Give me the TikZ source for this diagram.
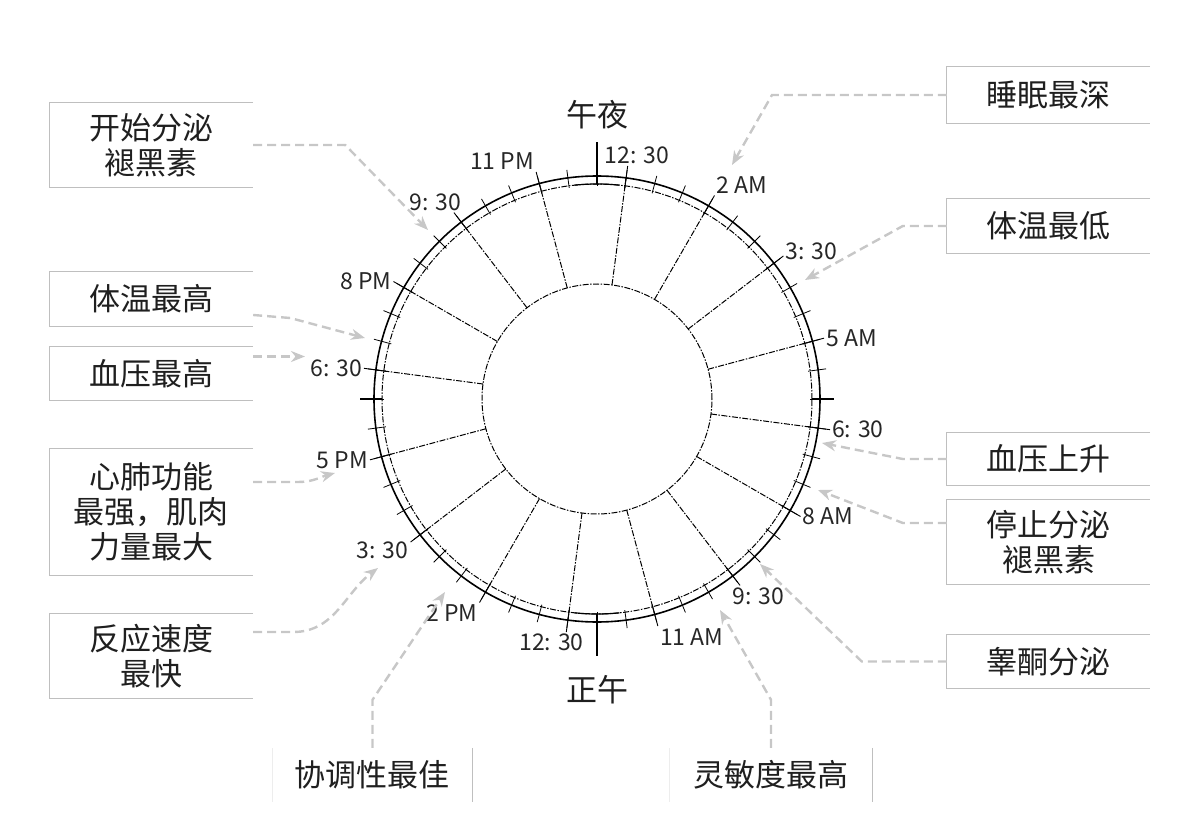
\documentclass[tikz,border=0pt]{standalone}
\usepackage{fontspec}
\setmainfont{Noto Sans CJK SC}
\usetikzlibrary{arrows.meta, positioning}

\tikzset{
  note/.style={minimum width=203pt, align=center, inner sep=0pt, text=black!88,
    font=\fontsize{31}{35}\selectfont},
  frame/.style={draw=black!25, line width=1.1pt},
  pointer/.style={draw=black!22, line width=2.4pt, dash pattern=on 9pt off 5pt,
    -{Stealth[length=14pt,width=11pt]}},
  ring/.style={line width=1pt, dash pattern=on 6pt off 1.5pt on 1.5pt off 1.5pt},
  hour/.style={font=\fontsize{23}{26}\selectfont, inner sep=2pt, text=black!85},
  bigmark/.style={line width=2.6pt},
}

\begin{document}
\begin{tikzpicture}[x=1pt, y=1pt]
\useasboundingbox (-597,-431) rectangle (585,399);
\coordinate (clk) at (0,0);

% clock face
\draw[line width=1.6pt] (clk) circle[radius=223];
\draw[ring] (clk) circle[radius=215];
\draw[ring] (clk) circle[radius=115];
\foreach \k in {0,...,47}
  \draw[line width=0.8pt] (7.5*\k:213) -- (7.5*\k:231);
\draw[bigmark] (90:215) -- (90:257);
\draw[bigmark] (-90:215) -- (-90:257);
\draw[bigmark] (0:215) -- (0:237);
\draw[bigmark] (180:215) -- (180:237);
\draw[line width=1.2pt] (84:215) arc[start angle=84, end angle=96, radius=215];
\draw[line width=1.2pt] (264:215) arc[start angle=264, end angle=276, radius=215];

% spokes and hours
\foreach \t/\lab/\anc [count=\i] in {0.5/{12: 30}/230, 2/2 AM/south west,
    3.5/{3: 30}/190, 5/5 AM/west, 6.5/{6: 30}/west, 8/8 AM/west,
    9.5/{9: 30}/150, 11/11 AM/north west, 12.5/{12: 30}/36, 14/2 PM/north east,
    15.5/{3: 30}/17, 17/5 PM/east, 18.5/{6: 30}/east, 20/8 PM/east,
    21.5/{9: 30}/330, 23/11 PM/south east}
{
  \pgfmathsetmacro\a{90-15*\t}
  \draw[ring] (\a:115) -- (\a:223);
  \draw[line width=0.9pt] (\a:213) -- (\a:235);
  \node[hour, anchor=\anc] (h\i) at (\a:235) {\lab};
}

\node[note] (midnight) at (0,284) {午夜};
\node[note] (noon) at (0,-291) {正午};

% left notes
\node[note, minimum height=84pt] (melstart) at (-445.5,254) {开始分泌\\褪黑素};
\node[note, minimum height=55pt] (hotbody) at (-445.5,100) {体温最高};
\node[note, minimum height=53pt] (bphigh) at (-445.5,25.5) {血压最高};
\node[note, minimum height=126pt] (heart) at (-445.5,-113) {心肺功能\\最强，肌肉\\力量最大};
\node[note, minimum height=84pt] (react) at (-445.5,-257) {反应速度\\最快};

% right notes
\node[note, minimum height=56pt] (sleep) at (451.5,304) {睡眠最深};
\node[note, minimum height=54pt] (lowtemp) at (451.5,173) {体温最低};
\node[note, minimum height=52pt] (bprise) at (451.5,-60) {血压上升};
\node[note, minimum height=84pt] (melstop) at (451.5,-143) {停止分泌\\褪黑素};
\node[note, minimum height=53pt] (testo) at (451.5,-262.5) {睾酮分泌};

% bottom notes
\node[note, minimum width=199pt, minimum height=54pt] (coord) at (-224.5,-376) {协调性最佳};
\node[note, minimum width=202pt, minimum height=54pt] (agile) at (174,-376) {灵敏度最高};

\foreach \b in {melstart, hotbody, bphigh, heart, react, sleep, lowtemp, bprise, melstop, testo}
  \draw[frame] (\b.north east) -- (\b.north west) -- (\b.south west) -- (\b.south east);
\foreach \b in {coord, agile} {
  \draw[frame] (\b.north east) -- (\b.south east);
  \draw[frame, draw=black!7] (\b.north west) -- (\b.south west);
}

% arrow targets
\coordinate (p1) at (-169,169);
\coordinate (p2) at (-232,61);
\coordinate (p3) at (-292,42.5);
\coordinate (p4) at (-262,-74);
\coordinate (p5) at (-219,-169);
\coordinate (p6) at (135,234);
\coordinate (p7) at (208,119);
\coordinate (p8) at (225,-44);
\coordinate (p9) at (221,-91);
\coordinate (p10) at (163,-165);
\coordinate (p11) at (-152,-193);
\coordinate (p12) at (123,-211);

\draw[pointer] (melstart.east) -- ++(92,0) -- (p1);
\draw[pointer] ([yshift=-16pt]hotbody.east) -- ++(37,-3) -- (p2);
\draw[pointer] ([yshift=17pt]bphigh.east) -- (p3);
\draw[pointer] ([yshift=30pt]heart.east) -- ++(45,0) to[out=0, in=195] (p4);
\draw[pointer] ([yshift=24pt]react.east) -- ++(40,0) to[out=0, in=217] (p5);
\draw[pointer] (sleep.west) -- (175,304) -- (p6);
\draw[pointer] (lowtemp.west) -- ++(-44,0) -- (p7);
\draw[pointer] (bprise.west) -- ++(-44,0) -- (p8);
\draw[pointer] ([yshift=19pt]melstop.west) -- ++(-44,0) -- (p9);
\draw[pointer] (testo.west) -- ++(-85,0) -- (p10);
\draw[pointer] (coord.north) -- ++(0,48) -- (p11);
\draw[pointer] (agile.north) -- ++(0,48) -- (p12);
\end{tikzpicture}
\end{document}
